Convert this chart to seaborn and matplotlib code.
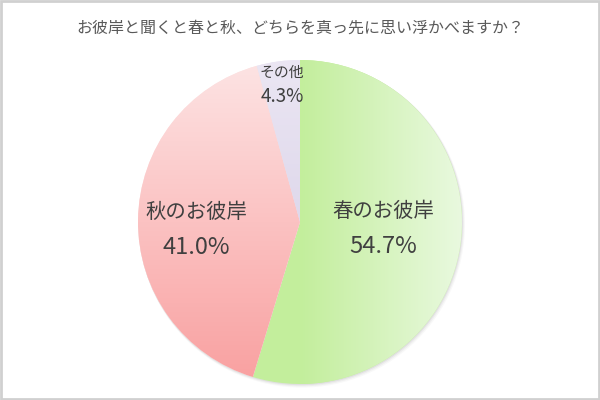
import numpy as np
import matplotlib
matplotlib.use("Agg")
import matplotlib.pyplot as plt
from matplotlib.patches import Rectangle, Circle
from matplotlib.colors import LinearSegmentedColormap
import seaborn as sns

sns.set_theme(style="white")
plt.rcParams['font.family'] = ['Noto Sans CJK JP', 'DejaVu Sans']

# data
title = "お彼岸と聞くと春と秋、どちらを真っ先に思い浮かべますか？"
labels = ["春のお彼岸", "秋のお彼岸", "その他"]
shares = [54.7, 41.0, 4.3]

# gradient ends (from, to) and direction per slice
grad_colors = [("#c3ee9c", "#e9f9df"), ("#fde4e4", "#f9a0a0"), ("#ebe6f3", "#d2cae4")]
grad_dir = ["h", "v", "v"]
label_dist = [0.52, 0.64, 0.83]
label_dy = [5.5, -9, 4.5]
name_size = [14.7, 14.7, 10.7]
pct_size = [17, 17, 13.5]
line_gap = [35.5, 35, 23.5]

fig = plt.figure(figsize=(6, 4), dpi=100)
ax = fig.add_axes([0, 0, 1, 1])

cx, cy, R = 300, 178, 162

# soft shadow
for k, a in [(3, 0.05), (2, 0.08), (1, 0.12)]:
    ax.add_patch(Circle((cx + k * 0.6, cy - k * 0.8), R + k * 0.4,
                        color="#808080", alpha=a, lw=0, zorder=0))

wedges, _ = ax.pie(shares, center=(cx, cy), radius=R, startangle=90,
                   counterclock=False, colors=[c[0] for c in grad_colors],
                   wedgeprops=dict(linewidth=0), frame=True)

for w, (c0, c1), d in zip(wedges, grad_colors, grad_dir):
    cmap = LinearSegmentedColormap.from_list("g", [c0, c1])
    if d == "h":
        arr = np.linspace(0, 1, 256)[None, :]
        ext = (cx, cx + R, cy - R, cy + R)
    else:
        arr = np.linspace(0, 1, 256)[:, None]
        ext = (cx - R, cx + R, cy - R, cy + R)
    im = ax.imshow(arr, cmap=cmap, extent=ext, origin="upper" if d == "v" else "lower",
                   aspect="auto", zorder=2, interpolation="bilinear")
    im.set_clip_path(w)

ax.set_xlim(0, 600)
ax.set_ylim(0, 400)
ax.set_aspect("equal")
ax.axis("off")

for w, lab, s, dist, dy, nfs, pfs, gap in zip(wedges, labels, shares, label_dist,
                                              label_dy, name_size, pct_size, line_gap):
    ang = np.deg2rad((w.theta1 + w.theta2) / 2)
    x = cx + dist * R * np.cos(ang)
    y = cy + dist * R * np.sin(ang) + dy
    ax.text(x, y + gap / 2, lab, ha="center", va="center", fontsize=nfs,
            color="#404040", zorder=5)
    ax.text(x, y - gap / 2, f"{s:.1f}%", ha="center", va="center", fontsize=pfs,
            color="#404040", zorder=5)

fig.text(0.5, 0.93, title, ha="center", va="center", fontsize=11.5, color="#595959")

fig.add_artist(Rectangle((0.002, 0.003), 0.996, 0.994, transform=fig.transFigure,
                         fill=False, edgecolor="#d0d0d0", linewidth=2))

fig.savefig("out.png", dpi=100)
